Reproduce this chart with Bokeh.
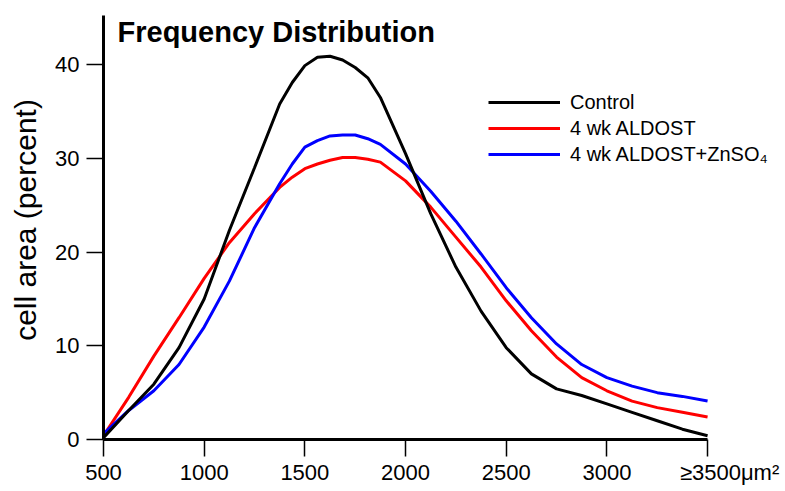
from bokeh.plotting import figure
from bokeh.models import Range1d, Legend, LegendItem, Label, FixedTicker
from bokeh.embed import file_html
from bokeh.resources import INLINE

# cell area bins (um^2)
area = [500, 625, 750, 875, 1000, 1125, 1250, 1375, 1437.5, 1500, 1562.5, 1625, 1687.5,
        1750, 1812.5, 1875, 2000, 2125, 2250, 2375, 2500, 2625, 2750, 2875, 3000,
        3125, 3250, 3375, 3500]

control = [0.2, 3.1, 5.9, 9.8, 15.0, 22.3, 29.0, 35.8, 38.1, 39.9, 40.8, 40.9, 40.5,
           39.7, 38.6, 36.5, 30.5, 24.1, 18.4, 13.7, 9.8, 7.0, 5.4, 4.7, 3.8,
           2.9, 2.0, 1.1, 0.4]

aldost = [0.4, 4.5, 8.9, 13.0, 17.2, 21.0, 24.1, 26.9, 28.0, 28.9, 29.4, 29.8, 30.1,
          30.1, 29.9, 29.6, 27.6, 24.8, 21.6, 18.4, 14.8, 11.6, 8.8, 6.6, 5.2,
          4.1, 3.4, 2.9, 2.4]

aldost_zn = [0.6, 3.1, 5.2, 8.0, 12.0, 16.9, 22.6, 27.3, 29.4, 31.2, 31.9, 32.4, 32.5,
             32.5, 32.1, 31.5, 29.4, 26.5, 23.3, 19.8, 16.2, 13.0, 10.2, 8.0, 6.6,
             5.7, 5.0, 4.6, 4.1]

series_names = ["Control", "4 wk ALDOST", "4 wk ALDOST+ZnSO\u2084"]
series_colors = ["#000000", "#ff0000", "#0000ff"]

x_ticks = [500, 1000, 1500, 2000, 2500, 3000, 3500]
x_tick_labels = ["500", "1000", "1500", "2000", "2500", "3000",
                 "\u2003\u2003\u22653500\u03bcm\u00b2"]
y_ticks = [0, 10, 20, 30, 40]
y_axis_top = 45.25

FONT = "Liberation Sans"

# frame spans from the y axis to the right edge so the legend is not clipped;
# the x axis line itself is bounded to 500..3500
p = figure(width=785, height=491, output_backend="svg", toolbar_location=None,
           x_range=Range1d(500, 3887), y_range=Range1d(0, 46.85),
           min_border_left=103, min_border_right=0, min_border_top=0,
           min_border_bottom=52)
p.outline_line_color = None
p.grid.visible = False
p.background_fill_color = "white"

for ax in (p.xaxis[0], p.yaxis[0]):
    ax.axis_line_width = 3
    ax.axis_line_color = "black"
    ax.major_tick_line_width = 1.5
    ax.major_tick_line_color = "black"
    ax.major_tick_out = 17
    ax.major_tick_in = 0
    ax.minor_tick_out = 0
    ax.minor_tick_in = 0
    ax.major_label_text_font = FONT
    ax.major_label_text_font_size = "22px"
    ax.major_label_text_color = "black"

p.xaxis[0].ticker = FixedTicker(ticks=x_ticks)
p.xaxis[0].bounds = (x_ticks[0], x_ticks[-1])
p.xaxis[0].major_label_overrides = {t: l for t, l in zip(x_ticks, x_tick_labels)}
p.xaxis[0].major_label_standoff = 3

p.yaxis[0].ticker = FixedTicker(ticks=y_ticks)
p.yaxis[0].bounds = (0, y_axis_top)
p.yaxis[0].major_label_standoff = 7
p.yaxis[0].axis_label = "cell area (percent)"
p.yaxis[0].axis_label_text_font = FONT
p.yaxis[0].axis_label_text_font_size = "30px"
p.yaxis[0].axis_label_text_font_style = "normal"
p.yaxis[0].axis_label_text_color = "black"
p.yaxis[0].axis_label_standoff = 10

r_red = p.line(area, aldost, line_color=series_colors[1], line_width=3)
r_blue = p.line(area, aldost_zn, line_color=series_colors[2], line_width=3)
r_black = p.line(area, control, line_color=series_colors[0], line_width=3)

legend = Legend(items=[LegendItem(label=series_names[0], renderers=[r_black]),
                       LegendItem(label=series_names[1], renderers=[r_red]),
                       LegendItem(label=series_names[2], renderers=[r_blue])],
                location=(385, 272))
legend.glyph_width = 72
legend.glyph_height = 26
legend.label_height = 26
legend.spacing = 0
legend.padding = 0
legend.margin = 0
legend.label_standoff = 10
legend.border_line_color = None
legend.background_fill_alpha = 0
legend.label_text_font = FONT
legend.label_text_font_size = "20px"
legend.label_text_color = "black"
p.add_layout(legend)

title = Label(x=14, y=408, x_units="screen", y_units="screen",
              text="Frequency Distribution", text_font=FONT,
              text_font_style="bold", text_font_size="29px",
              text_baseline="alphabetic", text_color="black")
p.add_layout(title)

open("out.html", "w").write(file_html(p, INLINE))
